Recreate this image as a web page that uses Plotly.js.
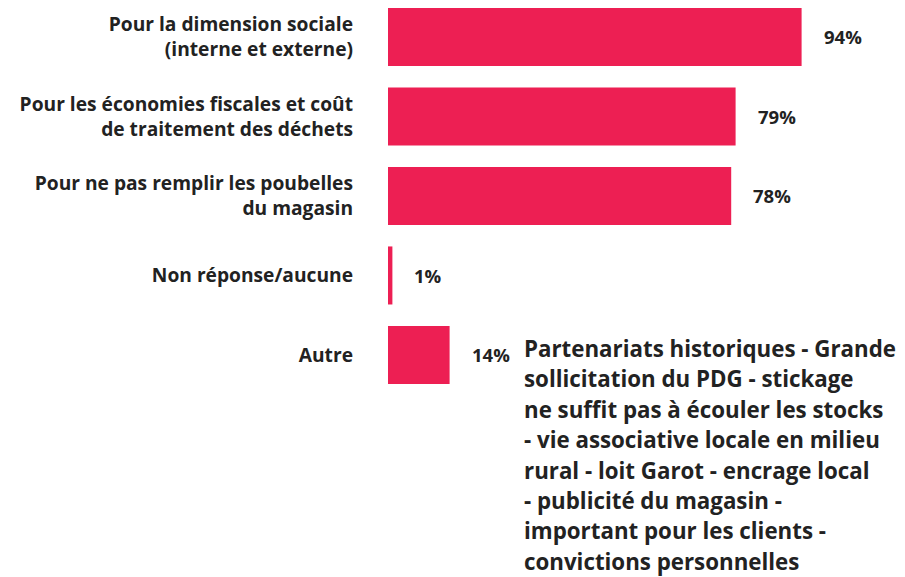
<!DOCTYPE html>
<html>
<head>
<meta charset="utf-8">
<script src="https://cdn.plot.ly/plotly-3.0.1.min.js"></script>
<style>html,body{margin:0;padding:0;background:#fff;}#chart{width:905px;height:577px;}</style>
</head>
<body>
<div id="chart"></div>
<script>
const categories = [
  "Pour la dimension sociale<br>(interne et externe)",
  "Pour les économies fiscales et coût<br>de traitement des déchets",
  "Pour ne pas remplir les poubelles<br>du magasin",
  "Non réponse/aucune",
  "Autre"
];
const values = [94, 79, 78, 1, 14];
const valueLabels = ["94%", "79%", "78%", "1%", "14%"];
const noteLines = [
  "Partenariats historiques - Grande",
  "sollicitation du PDG - stickage",
  "ne suffit pas à écouler les stocks",
  "- vie associative locale en milieu",
  "rural - loit Garot - encrage local",
  "- publicité du magasin -",
  "important pour les clients -",
  "convictions personnelles"
];

const FONT = "'Open Sans', sans-serif";
const TEXT = "#222222";
const BAR = "#ED1F53";
const W = 905, H = 577;

const annotations = [];
values.forEach((v, i) => {
  annotations.push({
    x: v, y: categories[i], xref: "x", yref: "y",
    text: "<b>" + valueLabels[i] + "</b>",
    showarrow: false, xanchor: "left", yanchor: "middle", xshift: 20,
    font: {family: FONT, size: 18.5, color: TEXT}
  });
});
noteLines.forEach((t, i) => {
  const py = 348.5 + 30.4 * i;
  annotations.push({
    x: (522 - 388) / 440, y: 1 - py / H, xref: "paper", yref: "paper",
    text: "<b>" + t + "</b>",
    showarrow: false, xanchor: "left", yanchor: "middle",
    font: {family: FONT, size: 22.3, color: TEXT}
  });
});

const trace = {
  type: "bar", orientation: "h",
  x: values, y: categories,
  marker: {color: BAR},
  width: 0.73,
  hoverinfo: "skip"
};

const layout = {
  width: W, height: H,
  margin: {l: 388, r: 77, t: 0, b: 0, pad: 0},
  paper_bgcolor: "#ffffff", plot_bgcolor: "#ffffff",
  showlegend: false,
  font: {family: FONT, color: TEXT},
  xaxis: {range: [0, 100], visible: false, fixedrange: true},
  yaxis: {
    type: "category", range: [6.793, -0.465],
    showgrid: false, zeroline: false, showline: false, ticks: "",
    ticklabelstandoff: 34,
    tickfont: {family: FONT, size: 19.2, color: TEXT, weight: "bold"},
    fixedrange: true
  },
  annotations: annotations
};

Plotly.newPlot("chart", [trace], layout, {displayModeBar: false, staticPlot: true});
</script>
</body>
</html>
